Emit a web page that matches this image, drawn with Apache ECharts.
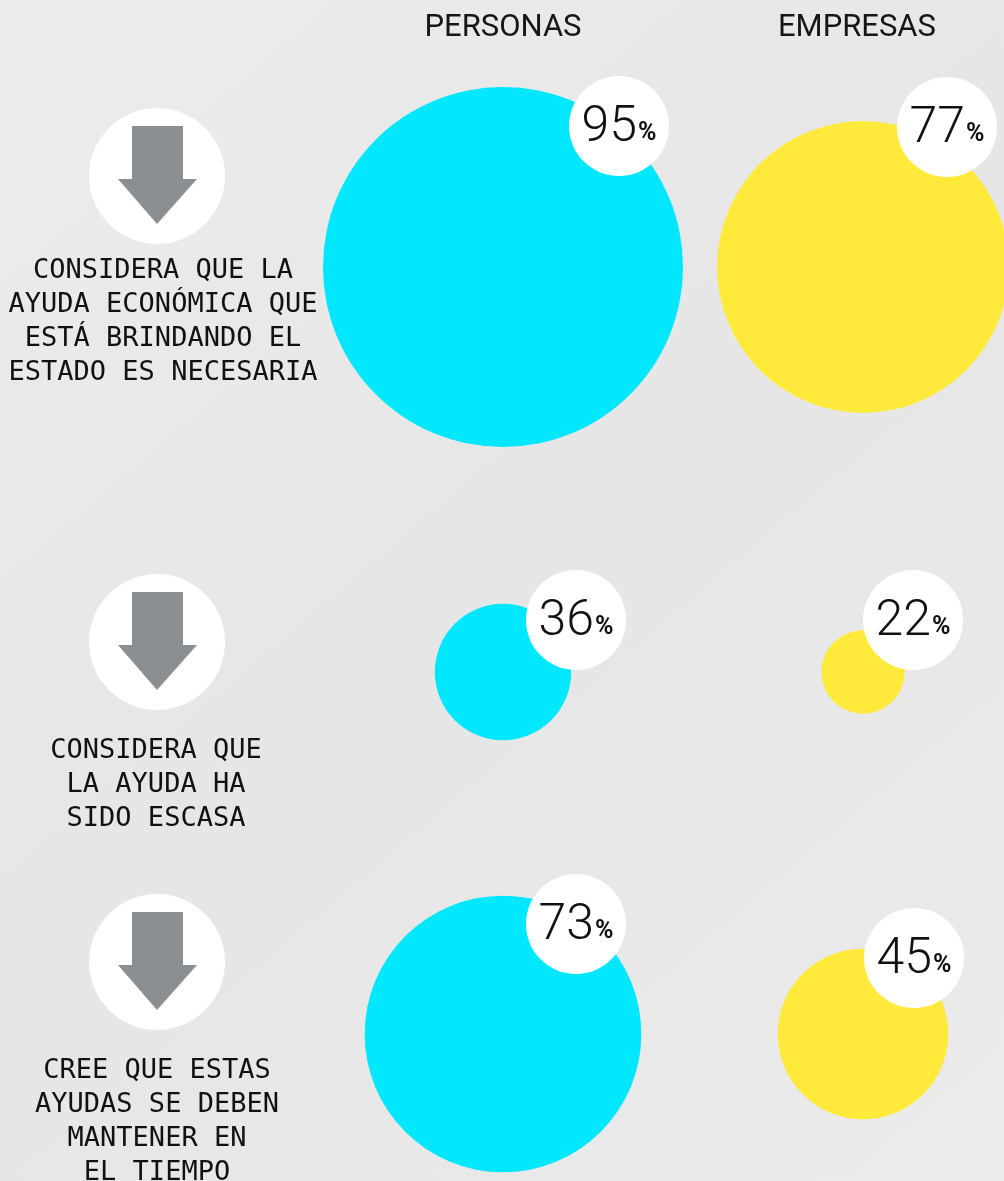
<!DOCTYPE html>
<html>
<head>
<meta charset="utf-8">
<script src="https://cdn.jsdelivr.net/npm/echarts@6/dist/echarts.min.js"></script>
<style>
  html, body { margin: 0; padding: 0; background: #e9e9e9; }
  #main { width: 1004px; height: 1181px; }
</style>
</head>
<body>
<div id="main"></div>
<script>
// data
var categories = ['PERSONAS', 'EMPRESAS'];
var questions = [
  'CONSIDERA QUE LA\nAYUDA ECONÓMICA QUE\nESTÁ BRINDANDO EL\nESTADO ES NECESARIA',
  'CONSIDERA QUE\nLA AYUDA HA\nSIDO ESCASA',
  'CREE QUE ESTAS\nAYUDAS SE DEBEN\nMANTENER EN\nEL TIEMPO'
];
var personas = [95, 36, 73];
var empresas = [77, 22, 45];

// layout (pixels)
var colX = [503, 863];
var rowY = [267, 672, 1034];
var pxPerPoint = 1.895; // radius grows linearly with the %
var badgeOffset = [
  [[116, -141], [84, -140]],
  [[73, -52], [50, -52]],
  [[73, -110], [51, -76]]
];
var colors = ['#00e7fe', '#ffea3b'];
var iconY = [176, 642, 962];
var textTop = [254, 734, 1054];
var textX = [163, 156, 157];

var chart = echarts.init(document.getElementById('main'));

var series = [];
[personas, empresas].forEach(function (vals, j) {
  series.push({
    type: 'scatter',
    name: categories[j],
    symbol: 'circle',
    z: 2,
    itemStyle: { color: colors[j], opacity: 1 },
    data: vals.map(function (v, i) {
      return { value: [colX[j], rowY[i], v], symbolSize: v * 2 * pxPerPoint };
    })
  });
});
// white badges with the value
[personas, empresas].forEach(function (vals, j) {
  series.push({
    type: 'scatter',
    symbol: 'circle',
    symbolSize: 100,
    z: 3,
    itemStyle: { color: '#ffffff', opacity: 1 },
    label: {
      show: true,
      position: 'inside',
      formatter: function (p) { return '{n|' + p.value[2] + '}{p|%}'; },
      rich: {
        n: { fontFamily: 'Roboto', fontWeight: 300, fontSize: 50, lineHeight: 54, color: '#111', padding: [4, 0, 0, 0] },
        p: { fontFamily: 'Roboto', fontWeight: 'bold', fontSize: 25, lineHeight: 25, color: '#111', verticalAlign: 'bottom', padding: [0, 0, 7, 1] }
      }
    },
    data: vals.map(function (v, i) {
      return { value: [colX[j], rowY[i], v], symbolOffset: badgeOffset[i][j] };
    })
  });
});

var graphics = [];
categories.forEach(function (c, j) {
  graphics.push({
    type: 'text',
    x: j === 0 ? 503 : 857,
    y: 28,
    style: {
      text: c, align: 'center', verticalAlign: 'middle',
      font: '31px Roboto', fill: '#161616'
    }
  });
});
questions.forEach(function (q, i) {
  graphics.push({
    type: 'group',
    x: 157,
    y: iconY[i],
    children: [
      { type: 'circle', shape: { cx: 0, cy: 0, r: 68 }, style: { fill: '#ffffff' } },
      {
        type: 'polygon',
        shape: { points: [[-25, -50], [26, -50], [26, 3], [40, 3], [0, 48], [-39, 3], [-25, 3]] },
        style: { fill: '#8c8f92' }
      }
    ]
  });
  graphics.push({
    type: 'text',
    x: textX[i],
    y: textTop[i],
    style: {
      text: q, align: 'center', verticalAlign: 'top',
      font: '27px "DejaVu Sans Mono"', lineHeight: 34, fill: '#111'
    }
  });
});

chart.setOption({
  animation: false,
  backgroundColor: {
    type: 'linear', x: 0, y: 0, x2: 1, y2: 1,
    colorStops: [{ offset: 0, color: '#ececec' }, { offset: 0.5, color: '#e6e6e6' }, { offset: 1, color: '#ebebeb' }]
  },
  grid: { left: 0, right: 0, top: 0, bottom: 0 },
  xAxis: { type: 'value', min: 0, max: 1004, show: false },
  yAxis: { type: 'value', min: 0, max: 1181, inverse: true, show: false },
  graphic: graphics,
  series: series
});
</script>
</body>
</html>
